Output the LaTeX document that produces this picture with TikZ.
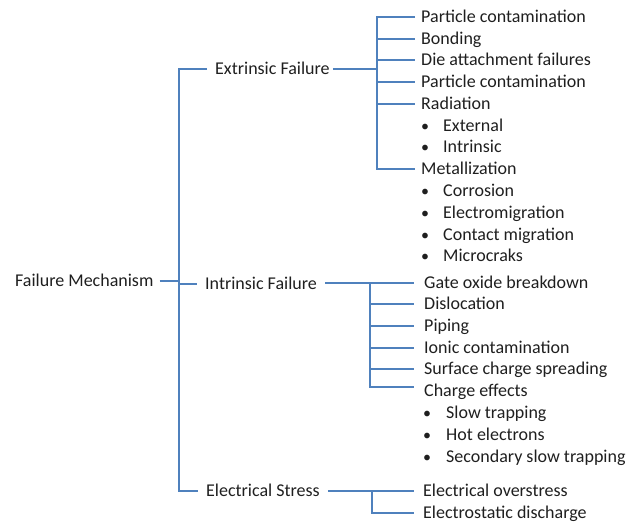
\documentclass[tikz,border=0pt]{standalone}
\usepackage{fontspec}
\setmainfont{Carlito}
\definecolor{linkblue}{RGB}{79,129,189}
\begin{document}
\begin{tikzpicture}[x=1pt,y=-1pt,
  lbl/.style={anchor=west,inner sep=0pt,font=\fontsize{18}{21}\selectfont,text=black!88,text height=11.5pt,text depth=0pt},
  link/.style={draw=linkblue,line width=1.7pt},
  bul/.style={lbl,font=\fontsize{16}{21}\selectfont}]
\useasboundingbox (0,0) rectangle (635,522);
% root
\node[lbl] (root) at (15,281) {Failure Mechanism};
\coordinate (mainM) at (179,281);
\coordinate (mainB) at (179,491);
% level 1
\node[lbl] (ext) at (215,69) {Extrinsic Failure};
\node[lbl] (int) at (205,284) {Intrinsic Failure};
\node[lbl] (ele) at (206,491) {Electrical Stress};
\draw[link] ([xshift=6pt]root.east) -- (mainM);
\draw[link] ([xshift=-8pt]ext.west) -| (mainB) -- ([xshift=-8pt]ele.west);
\draw[link] (mainB |- int.west) -- ([xshift=-8pt]int.west);
% extrinsic children
\node[lbl] (e1) at (421,17) {Particle contamination};
\node[lbl] (e2) at (421,39) {Bonding};
\node[lbl] (e3) at (421,60) {Die attachment failures};
\node[lbl] (e4) at (421,82) {Particle contamination};
\node[lbl] (e5) at (421,104) {Radiation};
\node[bul] (b51) at (421,126) {•};
\node[lbl] (e51) at (443,126) {External};
\node[bul] (b52) at (421,147) {•};
\node[lbl] (e52) at (443,147) {Intrinsic};
\node[lbl] (e6) at (421,169) {Metallization};
\node[bul] (b61) at (421,191) {•};
\node[lbl] (e61) at (443,191) {Corrosion};
\node[bul] (b62) at (421,213) {•};
\node[lbl] (e62) at (443,213) {Electromigration};
\node[bul] (b63) at (421,235) {•};
\node[lbl] (e63) at (443,235) {Contact migration};
\node[bul] (b64) at (421,256) {•};
\node[lbl] (e64) at (443,256) {Microcraks};
\coordinate (ej) at (377,69);
\draw[link] ([xshift=3pt]ext.east) -- (ej);
\draw[link] ([xshift=-6pt]e1.west) -| (ej) |- ([xshift=-6pt]e6.west);
\foreach \n in {e2,e3,e4,e5} \draw[link] (ej |- \n.west) -- ([xshift=-6pt]\n.west);
% intrinsic children
\node[lbl] (i1) at (424,283) {Gate oxide breakdown};
\node[lbl] (i2) at (424,304) {Dislocation};
\node[lbl] (i3) at (424,326) {Piping};
\node[lbl] (i4) at (424,348) {Ionic contamination};
\node[lbl] (i5) at (424,369) {Surface charge spreading};
\node[lbl] (i6) at (424,391) {Charge effects};
\node[bul] (b61i) at (423,413) {•};
\node[lbl] (i61) at (446,413) {Slow trapping};
\node[bul] (b62i) at (423,435) {•};
\node[lbl] (i62) at (446,435) {Hot electrons};
\node[bul] (b63i) at (423,457) {•};
\node[lbl] (i63) at (446,457) {Secondary slow trapping};
\coordinate (ij) at (370,283);
\coordinate (ijb) at (370,387);
\draw[link] ([xshift=8pt]int.east |- ij) -- ([xshift=-10pt]i1.west);
\draw[link] (ij) -- (ijb) -- ([xshift=-10pt]i1.west |- ijb);
\foreach \n in {i2,i3,i4,i5} \draw[link] (ij |- \n.west) -- ([xshift=-10pt]\n.west);
% electrical children
\node[lbl] (s1) at (423,491) {Electrical overstress};
\node[lbl] (s2) at (423,513) {Electrostatic discharge};
\coordinate (sj) at (372,491);
\draw[link] ([xshift=8pt]ele.east) -- ([xshift=-9pt]s1.west);
\draw[link] (sj) |- ([xshift=-9pt]s2.west);
\end{tikzpicture}
\end{document}
